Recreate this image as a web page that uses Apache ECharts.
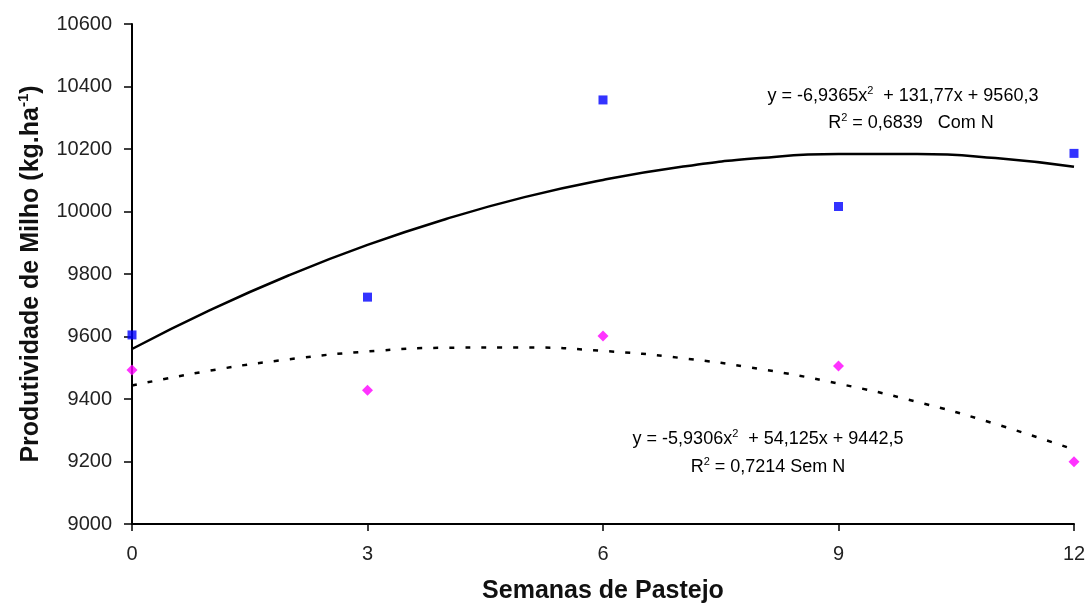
<!DOCTYPE html>
<html>
<head>
<meta charset="utf-8">
<title>Produtividade de Milho</title>
<script src="https://cdn.jsdelivr.net/npm/echarts@6/dist/echarts.min.js"></script>
<style>
  html, body { margin: 0; padding: 0; background: #fff; }
  #chart { width: 1088px; height: 604px; }
</style>
</head>
<body>
<div id="chart"></div>
<script>
// observed points (semanas de pastejo)
const weeks = [0, 3, 6, 9, 12];
const comN = [9605, 9726, 10357, 10016, 10186];
const semN = [9493, 9428, 9602, 9506, 9199];

// trend curves, one value per week
const weeksFit = [0, 1, 2, 3, 4, 5, 6, 7, 8, 9, 10, 11, 12];
const comNFit = [9560, 9685, 9796, 9893, 9976, 10046, 10101, 10143, 10171, 10184, 10184, 10171, 10143];
const semNFit = [9443, 9491, 9527, 9552, 9564, 9565, 9554, 9531, 9496, 9449, 9391, 9320, 9238];

const xTicks = [0, 3, 6, 9, 12];

const font = '"Liberation Sans", Arial, sans-serif';
const pair = (xs, ys) => xs.map((x, i) => [x, ys[i]]);

const chart = echarts.init(document.getElementById('chart'));

const eqRich = {
  a: { fontFamily: font, fontSize: 18, color: '#111', lineHeight: 22 },
  s: { fontFamily: font, fontSize: 11, color: '#111', lineHeight: 22, verticalAlign: 'top' }
};
// one text per line of the trend annotations
function eqText(x, y, text) {
  return {
    type: 'text', x: x, y: y, z: 10,
    style: { text: text, rich: eqRich, align: 'center', verticalAlign: 'middle' }
  };
}

chart.setOption({
  backgroundColor: '#fff',
  animation: false,
  grid: { left: 132, right: 14, top: 24, bottom: 80, outerBoundsMode: 'none' },
  xAxis: {
    type: 'value',
    min: 0,
    max: 12,
    interval: 3,
    name: 'Semanas de Pastejo',
    nameLocation: 'middle',
    nameGap: 55,
    nameTextStyle: { fontFamily: font, fontSize: 25, fontWeight: 'bold', color: '#111' },
    axisLine: { lineStyle: { color: '#000', width: 2 } },
    axisTick: { show: true, length: 7, lineStyle: { color: '#000', width: 1.5 } },
    axisLabel: {
      margin: 20, fontFamily: font, fontSize: 20, color: '#222',
      customValues: xTicks
    },
    splitLine: { show: false }
  },
  yAxis: {
    type: 'value',
    min: 9000,
    max: 10600,
    interval: 200,
    name: '{b|Produtividade de Milho (kg.ha}{s|-1}{b|)}',
    nameLocation: 'middle',
    nameGap: 86,
    nameRotate: 90,
    nameTextStyle: {
      rich: {
        b: { fontFamily: font, fontSize: 25, fontWeight: 'bold', color: '#111', lineHeight: 30 },
        s: { fontFamily: font, fontSize: 15, fontWeight: 'bold', color: '#111', lineHeight: 30, verticalAlign: 'top' }
      }
    },
    axisLine: { show: true, lineStyle: { color: '#000', width: 2 } },
    axisTick: { show: true, length: 8, lineStyle: { color: '#000', width: 1.5 } },
    axisLabel: {
      margin: 20, fontFamily: font, fontSize: 20, color: '#222',
      formatter: v => String(v)
    },
    splitLine: { show: false }
  },
  series: [
    {
      name: 'Com N (ajuste)',
      type: 'line',
      smooth: true,
      showSymbol: false,
      data: pair(weeksFit, comNFit),
      lineStyle: { color: '#000', width: 2.5 },
      z: 2
    },
    {
      name: 'Sem N (ajuste)',
      type: 'line',
      smooth: true,
      showSymbol: false,
      data: pair(weeksFit, semNFit),
      lineStyle: { color: '#000', width: 2.5, type: [5, 11] },
      z: 2
    },
    {
      name: 'Com N',
      type: 'scatter',
      symbol: 'rect',
      symbolSize: 9,
      data: pair(weeks, comN),
      itemStyle: { color: '#0000ff' },
      z: 3
    },
    {
      name: 'Sem N',
      type: 'scatter',
      symbol: 'diamond',
      symbolSize: 11,
      data: pair(weeks, semN),
      itemStyle: { color: '#ff00ff' },
      z: 3
    }
  ],
  graphic: [
    eqText(903, 96, '{a|y = -6,9365x}{s|2}{a|  + 131,77x + 9560,3}'),
    eqText(911, 123, '{a|R}{s|2}{a| = 0,6839   Com N}'),
    eqText(768, 439, '{a|y = -5,9306x}{s|2}{a|  + 54,125x + 9442,5}'),
    eqText(768, 467, '{a|R}{s|2}{a| = 0,7214 Sem N}')
  ]
});
</script>
</body>
</html>
